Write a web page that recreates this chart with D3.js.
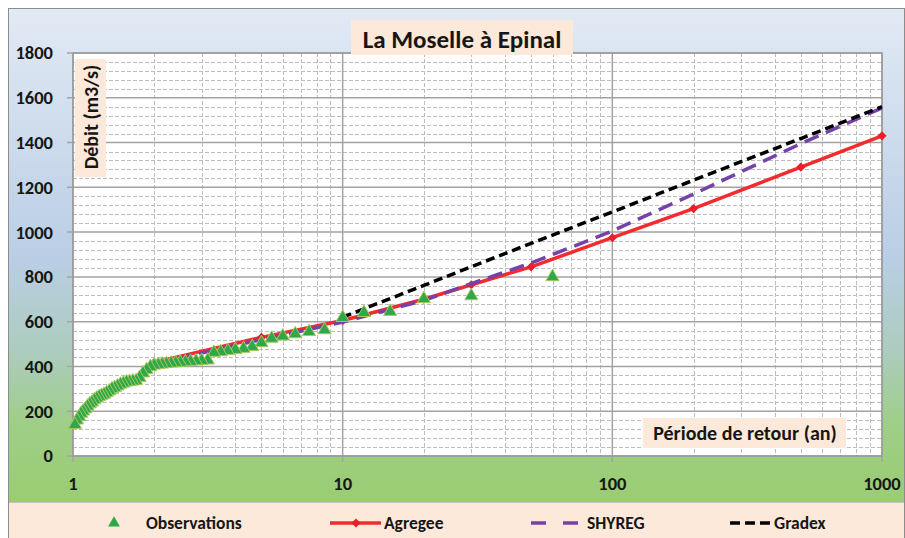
<!DOCTYPE html>
<html>
<head>
<meta charset="utf-8">
<script src="https://cdn.jsdelivr.net/npm/d3@7"></script>
<style>
  body { margin: 0; background: #fff; }
  text { font-family: Carlito, Lato, sans-serif; font-weight: 900; fill: #161616; }
</style>
</head>
<body>
<script>
// Observations (return period T in years, discharge in m3/s)
const obsT = [60, 30, 20, 15, 12, 10, 8.57, 7.5, 6.67, 6, 5.45, 5, 4.62, 4.29, 4,
  3.75, 3.53, 3.33, 3.16, 3, 2.86, 2.73, 2.61, 2.5, 2.4, 2.31, 2.22, 2.14, 2.07, 2,
  1.935, 1.875, 1.818, 1.765, 1.714, 1.667, 1.622, 1.579, 1.538, 1.5, 1.463, 1.429,
  1.395, 1.364, 1.333, 1.304, 1.277, 1.25, 1.224, 1.2, 1.176, 1.154, 1.132, 1.111,
  1.091, 1.071, 1.053, 1.034, 1.017];
const obsQ = [800, 715, 702, 645, 640, 618, 563, 555, 545, 535, 525, 505, 488, 480, 475,
  470, 465, 462, 428, 426, 424, 422, 420, 418, 416, 414, 412, 410, 408, 405,
  398, 385, 370, 350, 336, 334, 332, 330, 325, 320, 312, 305,
  300, 290, 282, 275, 270, 265, 258, 250, 240, 232, 222, 210,
  200, 190, 175, 160, 140];

const agregeeT = [2, 5, 10, 20, 30, 50, 100, 200, 500, 1000];
const agregeeQ = [418, 530, 605, 700, 765, 845, 975, 1105, 1290, 1430];

const shyregT = [2, 5, 10, 20, 30, 50, 100, 200, 500, 1000];
const shyregQ = [412, 520, 598, 695, 770, 862, 1005, 1170, 1395, 1555];

const gradexT = [10, 20, 50, 100, 200, 500, 1000];
const gradexQ = [620, 762, 950, 1090, 1232, 1418, 1560];

const xTicks = [1, 10, 100, 1000];
const yTicks = [0, 200, 400, 600, 800, 1000, 1200, 1400, 1600, 1800];

const legendItems = ['Observations', 'Agregee', 'SHYREG', 'Gradex'];

const W = 905, H = 538;
const margin = { top: 53, right: 23, bottom: 82, left: 73 };
const width = W - margin.left - margin.right;
const height = H - margin.top - margin.bottom;

const svg = d3.select('body')
  .append('svg')
  .attr('width', W)
  .attr('height', H);

const defs = svg.append('defs');
const grad = defs.append('linearGradient')
  .attr('id', 'bg')
  .attr('x1', 0).attr('y1', 0).attr('x2', 0).attr('y2', 1);
[[0, '#e2eaf4'], [0.5, '#bacee6'], [0.7, '#acccbc'], [0.84, '#9fce88'], [1, '#9acd72']]
  .forEach(s => grad.append('stop').attr('offset', s[0]).attr('stop-color', s[1]));

// chart frame
svg.append('rect')
  .attr('x', 8.5).attr('y', 8.5)
  .attr('width', 896).attr('height', 494)
  .attr('fill', 'url(#bg)');
svg.append('rect')
  .attr('x', 8.5).attr('y', 502.5)
  .attr('width', 896).attr('height', 40)
  .attr('fill', '#fde9d9')
  .attr('stroke', '#c9c2bb');
svg.append('rect')
  .attr('x', 8.5).attr('y', 8.5)
  .attr('width', 896).attr('height', 540)
  .attr('fill', 'none')
  .attr('stroke', '#8c8c8c');

const x = d3.scaleLog()
  .domain([1, 1000])
  .range([0, width]);

const y = d3.scaleLinear()
  .domain([0, 1800])
  .range([height, 0]);

const g = svg.append('g')
  .attr('transform', `translate(${margin.left} ${margin.top})`);

g.append('rect')
  .attr('width', width)
  .attr('height', height)
  .attr('fill', '#fff');

// minor grid
g.selectAll('.ymin')
  .data(d3.range(40, 1800, 40).filter(v => v % 200 !== 0))
  .enter()
    .append('line')
    .attr('x1', 0).attr('x2', width)
    .attr('y1', d => Math.round(y(d)) + 0.5)
    .attr('y2', d => Math.round(y(d)) + 0.5)
    .attr('stroke', '#bdbdbd')
    .attr('stroke-dasharray', '4,2');

g.selectAll('.xmin')
  .data(x.ticks().filter(v => !xTicks.includes(v)))
  .enter()
    .append('line')
    .attr('y1', 0).attr('y2', height)
    .attr('x1', d => Math.round(x(d)) + 0.5)
    .attr('x2', d => Math.round(x(d)) + 0.5)
    .attr('stroke', '#bdbdbd')
    .attr('stroke-dasharray', '4,2');

// major grid
g.selectAll('.ymaj')
  .data(yTicks)
  .enter()
    .append('line')
    .attr('x1', -6).attr('x2', width)
    .attr('y1', d => y(d))
    .attr('y2', d => y(d))
    .attr('stroke', '#a3a3a3')
    .attr('stroke-width', 1.5);

g.selectAll('.xmaj')
  .data(xTicks)
  .enter()
    .append('line')
    .attr('y1', 0).attr('y2', height + 6)
    .attr('x1', d => x(d))
    .attr('x2', d => x(d))
    .attr('stroke', '#a3a3a3')
    .attr('stroke-width', 1.5);

g.append('rect')
  .attr('width', width)
  .attr('height', height)
  .attr('fill', 'none')
  .attr('stroke', '#9a9a9a')
  .attr('stroke-width', 1.5);

// tick labels
g.selectAll('.ylab')
  .data(yTicks)
  .enter()
    .append('text')
    .attr('x', -20)
    .attr('y', d => y(d))
    .attr('dy', '0.35em')
    .attr('text-anchor', 'end')
    .attr('font-size', 18.5)
    .text(d => d);

g.selectAll('.xlab')
  .data(xTicks)
  .enter()
    .append('text')
    .attr('x', d => x(d))
    .attr('y', height + 28)
    .attr('dy', '0.35em')
    .attr('text-anchor', 'middle')
    .attr('font-size', 18.5)
    .text(d => d);

// series
const line = d3.line()
  .x(d => x(d[0]))
  .y(d => y(d[1]));

const agregee = d3.zip(agregeeT, agregeeQ);
const shyreg = d3.zip(shyregT, shyregQ);
const gradex = d3.zip(gradexT, gradexQ);

g.append('path')
  .attr('d', line(agregee))
  .attr('fill', 'none')
  .attr('stroke', '#f22b2f')
  .attr('stroke-width', 3.5);

g.selectAll('.diam')
  .data(agregee)
  .enter()
    .append('path')
    .attr('d', d3.symbol(d3.symbolSquare, 42))
    .attr('transform', d => `translate(${x(d[0])} ${y(d[1])}) rotate(45)`)
    .attr('fill', '#e8202a');

g.append('path')
  .attr('d', line(shyreg))
  .attr('fill', 'none')
  .attr('stroke', '#7442a8')
  .attr('stroke-width', 3.5)
  .attr('stroke-dasharray', '15,8');

g.append('path')
  .attr('d', line(gradex))
  .attr('fill', 'none')
  .attr('stroke', '#000')
  .attr('stroke-width', 3.5)
  .attr('stroke-dasharray', '9,5');

g.selectAll('.obs')
  .data(d3.zip(obsT, obsQ))
  .enter()
    .append('path')
    .attr('d', d3.symbol(d3.symbolTriangle, 75))
    .attr('transform', d => `translate(${x(d[0])} ${y(d[1])})`)
    .attr('fill', '#2ea84a')
    .attr('stroke', '#a9c95d')
    .attr('stroke-width', 1);

// title and axis labels
svg.append('rect')
  .attr('x', 351).attr('y', 20)
  .attr('width', 222).attr('height', 35)
  .attr('fill', '#fde9d9');
svg.append('text')
  .attr('x', 462).attr('y', 39)
  .attr('dy', '0.35em')
  .attr('text-anchor', 'middle')
  .attr('font-size', 25)
  .text('La Moselle à Epinal');

svg.append('rect')
  .attr('x', 75).attr('y', 59)
  .attr('width', 31).attr('height', 118)
  .attr('fill', '#fde9d9');
svg.append('text')
  .attr('transform', 'translate(91 117) rotate(-90)')
  .attr('dy', '0.35em')
  .attr('text-anchor', 'middle')
  .attr('font-size', 20)
  .text('Débit (m3/s)');

svg.append('rect')
  .attr('x', 643).attr('y', 418)
  .attr('width', 203).attr('height', 30)
  .attr('fill', '#fde9d9');
svg.append('text')
  .attr('x', 745).attr('y', 433)
  .attr('dy', '0.35em')
  .attr('text-anchor', 'middle')
  .attr('font-size', 20)
  .text('Période de retour (an)');

// legend
const ly = 523;
const lg = svg.append('g');
lg.append('path')
  .attr('d', d3.symbol(d3.symbolTriangle, 60))
  .attr('transform', `translate(114 ${ly})`)
  .attr('fill', '#2ea84a');
lg.append('line')
  .attr('x1', 330).attr('x2', 381).attr('y1', ly).attr('y2', ly)
  .attr('stroke', '#f22b2f').attr('stroke-width', 3.5);
lg.append('path')
  .attr('d', d3.symbol(d3.symbolSquare, 42))
  .attr('transform', `translate(356 ${ly}) rotate(45)`)
  .attr('fill', '#e8202a');
lg.append('line')
  .attr('x1', 531).attr('x2', 578).attr('y1', ly).attr('y2', ly)
  .attr('stroke', '#7442a8').attr('stroke-width', 3.5)
  .attr('stroke-dasharray', '15,17');
lg.append('line')
  .attr('x1', 730).attr('x2', 771).attr('y1', ly).attr('y2', ly)
  .attr('stroke', '#000').attr('stroke-width', 3.5)
  .attr('stroke-dasharray', '10,5');
lg.selectAll('.ltxt')
  .data(legendItems)
  .enter()
    .append('text')
    .attr('x', (d, i) => [146, 384, 587, 774][i])
    .attr('y', ly)
    .attr('dy', '0.35em')
    .attr('font-size', 17.5)
    .text(d => d);
</script>
</body>
</html>
